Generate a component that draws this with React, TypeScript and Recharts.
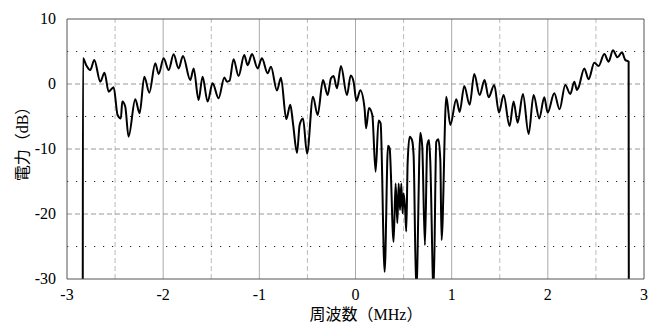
import React from 'react';
import { LineChart, Line, XAxis, YAxis, ReferenceLine } from 'recharts';

const freqMHz: number[] = [
  -2.836, -2.834, -2.8, -2.758, -2.716, -2.654, -2.61, -2.567, -2.515, -2.474, -2.44, -2.425, -2.394, -2.36,
  -2.29, -2.245, -2.196, -2.144, -2.082, -2.047, -1.995, -1.943, -1.891, -1.84, -1.794, -1.718, -1.683,
  -1.632, -1.59, -1.538, -1.486, -1.424, -1.364, -1.336, -1.31, -1.268, -1.216, -1.157, -1.122, -1.076,
  -1.018, -0.973, -0.914, -0.879, -0.817, -0.775, -0.72, -0.678, -0.65, -0.608, -0.581, -0.546, -0.504,
  -0.442, -0.394, -0.338, -0.29, -0.255, -0.228, -0.193, -0.151, -0.089, -0.05, -0.02, 0.01, 0.05, 0.094,
  0.11, 0.14, 0.175, 0.209, 0.24, 0.261, 0.303, 0.338, 0.355, 0.396, 0.417, 0.435, 0.449, 0.463, 0.476,
  0.49, 0.5, 0.515, 0.528, 0.542, 0.563, 0.587, 0.604, 0.632, 0.674, 0.694, 0.722, 0.746, 0.764, 0.777,
  0.812, 0.84, 0.861, 0.882, 0.895, 0.944, 0.986, 1.048, 1.083, 1.131, 1.187, 1.235, 1.291, 1.342, 1.384,
  1.443, 1.492, 1.54, 1.602, 1.644, 1.686, 1.741, 1.8, 1.852, 1.911, 1.963, 1.998, 2.067, 2.122, 2.181,
  2.234, 2.275, 2.303, 2.32, 2.379, 2.424, 2.483, 2.528, 2.587, 2.632, 2.677, 2.725, 2.771, 2.805, 2.84, 2.842,
];

const powerDb: number[] = [
  -30, 3.95, 2.9, 2.15, 3.7, 0.36, 1.74, -1.18, -0.5, -4.77, -5.3, -2.7, -3.5, -8.1,
  -2.36, -4.5, 1.13, -1.33, 3.18, 1.54, 3.95, 2.15, 4.56, 2.4, 4.3, 0.6, 2.4,
  -2.46, 1.13, -2.7, 0.1, -2.2, 1.0, 0.36, 0.5, 3.8, 1.23, 4.46, 2.9, 4.6,
  2.4, 3.95, 1.64, 2.67, -1.0, 0.97, -5.4, -3.2, -6.05, -10.6, -6.3, -5.3, -10.7,
  -1.95, -4.77, 0.6, -1.7, 0.87, 1.23, -0.67, 2.77, -1.7, 1.3, 0.36, -2.6, -0.95, -3.7,
  -6.8, -3.7, -4.8, -13.5, -5.6, -6.05, -28.9, -9.5, -9.9, -24.3, -15.3, -21.4, -15.3, -19.4, -15.3,
  -19.9, -16.8, -18.9, -22.7, -12.2, -8.1, -8.6, -10.9, -32, -7.5, -9.6, -24.8, -9.4, -8.6, -11.7,
  -32, -8.9, -8.5, -11.7, -24, -1.95, -6.3, -2.36, -4.3, -0.3, -3.2, 1.54, -1.7, 0.6, -2.05,
  -0.15, -4.4, -1.7, -6.46, -2.7, -5.95, -1.54, -7.7, -1.7, -5.3, -2.05, -4.4, -1.44, -3.9, -0.15,
  -1.54, 0.36, -0.92, -0.5, 2.4, 0.72, 3.28, 2.77, 4.6, 3.44, 5.2, 4.1, 4.87, 3.7, 3.44, -30,
];

const xTicks: number[] = [-3, -2, -1, 0, 1, 2, 3];
const yTicks: number[] = [-30, -20, -10, 0, 10];
const xMajorGrid: number[] = [-2, -1, 0, 1, 2];
const xMinorGrid: number[] = [-2.5, -1.5, -0.5, 0.5, 1.5, 2.5];
const yMajorGrid: number[] = [-20, -10, 0];
const yMinorGrid: number[] = [-25, -15, -5, 5];

const data = freqMHz.map((x, i) => ({ x, y: powerDb[i] }));

const serif = "'Times New Roman', 'Liberation Serif', 'DejaVu Serif', 'Noto Sans CJK JP', serif";
const textStyle = { fontFamily: serif, fontSize: 16 };

const XTick = (props: any) => {
  const { x, y, payload } = props;
  return (
    <text x={x} y={y + 13} textAnchor="middle" fill="#000" fontFamily={serif} fontSize={16}>
      {payload.value}
    </text>
  );
};

const YTick = (props: any) => {
  const { x, y, payload } = props;
  return (
    <text x={x - 3} y={y + 5} textAnchor="end" fill="#000" fontFamily={serif} fontSize={16}>
      {payload.value}
    </text>
  );
};

export default function App() {
  return (
    <div style={{ position: 'absolute', left: 0, top: 0, background: '#fff', fontFamily: serif }}>
      <LineChart width={662} height={323} data={data} margin={{ top: 19, right: 18, bottom: 0, left: 0 }} style={textStyle}>
        <XAxis
          dataKey="x"
          type="number"
          domain={[-3, 3]}
          ticks={xTicks}
          allowDataOverflow
          tickLine={false}
          axisLine={{ stroke: '#555' }}
          height={44}
          tick={<XTick />}
          label={{
            content: () => (
              <text x={366} y={320} textAnchor="middle" fill="#000" fontFamily={serif} fontSize={16}>
                周波数（MHz）
              </text>
            ),
          }}
        />
        <YAxis
          type="number"
          domain={[-30, 10]}
          ticks={yTicks}
          allowDataOverflow
          tickLine={false}
          axisLine={{ stroke: '#555' }}
          width={67}
          tick={<YTick />}
          label={{
            content: () => (
              <text x={22} y={140} transform="rotate(-90 22 140)" textAnchor="middle" dominantBaseline="central" fill="#000" fontFamily={serif} fontSize={16}>
                電力（dB）
              </text>
            ),
          }}
        />
        {xMinorGrid.map((v) => (
          <ReferenceLine key={'xm' + v} x={v} stroke="#bbb" strokeDasharray="5 3" />
        ))}
        {xMajorGrid.map((v) => (
          <ReferenceLine key={'xM' + v} x={v} stroke="#aaa" />
        ))}
        {yMajorGrid.map((v) => (
          <ReferenceLine key={'yM' + v} y={v} stroke="#999" strokeDasharray="5 3" />
        ))}
        {yMinorGrid.map((v) => (
          <ReferenceLine key={'ym' + v} y={v} stroke="#222" strokeDasharray="1.2 7.8" />
        ))}
        <ReferenceLine y={10} stroke="#555" />
        <ReferenceLine x={3} stroke="#555" />
        <Line
          dataKey="y"
          type="monotone"
          stroke="#000"
          strokeWidth={2}
          dot={false}
          isAnimationActive={false}
        />
      </LineChart>
    </div>
  );
}
